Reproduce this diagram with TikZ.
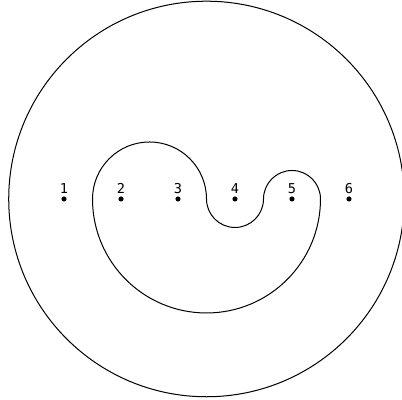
\documentclass[tikz,border=0pt]{standalone}
\usepackage{fontspec}
\newfontfamily\lblfont{DejaVu Sans Mono}
\begin{document}
\begin{tikzpicture}[x=1cm,y=1cm,
  curve/.style={line width=0.5pt},
  pt/.style={circle,fill,inner sep=0pt,minimum size=0.09cm},
  lbl/.style={anchor=base,inner sep=0pt,font=\lblfont\fontsize{6.8}{8}\selectfont}]
\useasboundingbox (-0.123,-3.526) rectangle (6.93,3.491);
\draw[curve] (3.5,0) circle (3.47);
\draw[curve] (1.5,0) arc (180:0:1) arc (180:360:0.5) arc (180:0:0.5) arc (0:-180:2) -- cycle;
\foreach \k in {1,...,6} {
  \node[pt] (p\k) at (\k,0) {};
  \node[lbl] (l\k) at (\k,0.09) {\k};
}
\end{tikzpicture}
\end{document}
